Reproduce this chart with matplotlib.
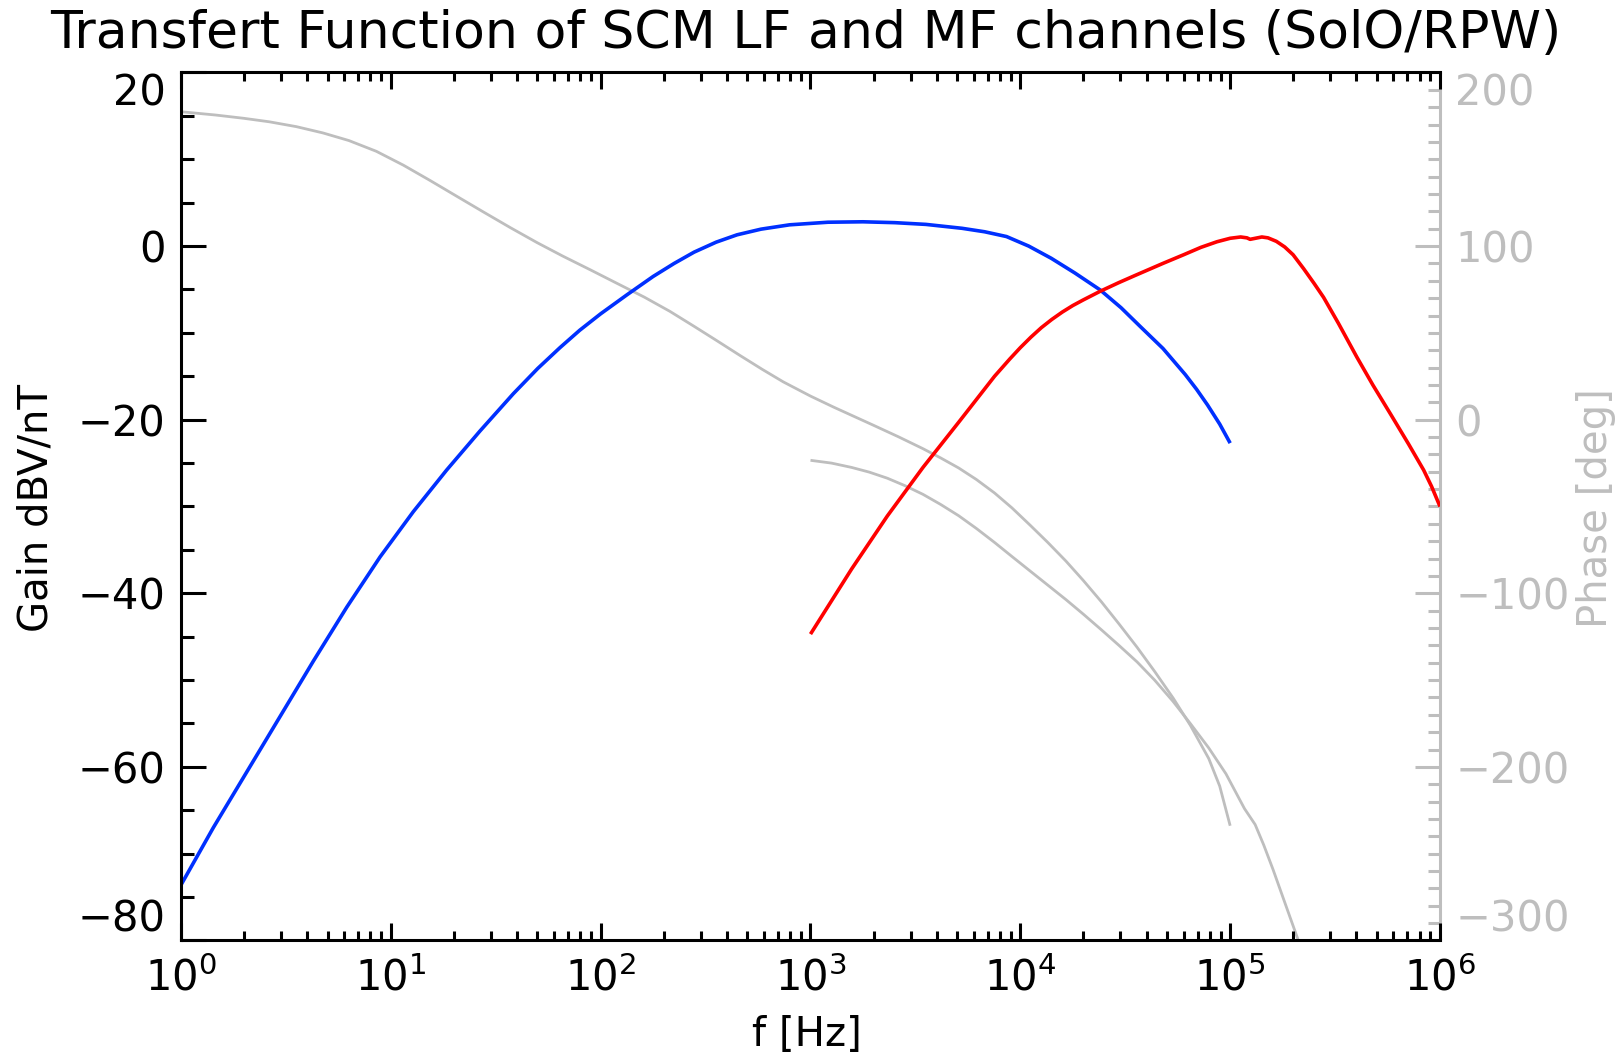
import numpy as np
import matplotlib
matplotlib.use("Agg")
import matplotlib.pyplot as plt
from matplotlib.ticker import MultipleLocator, LogLocator, NullFormatter

# ---------------- data ----------------
# frequencies are given as log10(f [Hz])
lf_log10f = [0.0, 0.154, 0.313, 0.472, 0.631, 0.790, 0.949, 1.107, 1.266, 1.425,
             1.584, 1.7, 1.806, 1.9, 2.0, 2.126, 2.25, 2.35, 2.445, 2.55, 2.65,
             2.764, 2.9, 3.083, 3.25, 3.402, 3.55, 3.722, 3.83, 3.934, 4.04,
             4.147, 4.26, 4.381, 4.48, 4.573, 4.68, 4.786, 4.84, 4.892, 4.95, 5.0]
lf_gain = [-73.6, -67.0, -60.6, -54.2, -47.8, -41.6, -35.8, -30.6, -25.8, -21.3,
           -17.0, -14.1, -11.7, -9.7, -7.8, -5.6, -3.5, -2.0, -0.7, 0.45, 1.3,
           1.95, 2.45, 2.75, 2.8, 2.7, 2.5, 2.05, 1.65, 1.1, 0.0,
           -1.4, -3.1, -5.06, -7.1, -9.3, -11.8, -14.8, -16.5, -18.3, -20.5, -22.7]

mf_log10f = [3.0, 3.196, 3.366, 3.536, 3.706, 3.877, 3.95, 4.0, 4.05, 4.1, 4.15,
             4.2, 4.25, 4.3, 4.381, 4.47, 4.55, 4.679, 4.778, 4.86, 4.937, 5.0,
             5.05, 5.08, 5.095, 5.12, 5.151, 5.18, 5.22, 5.26, 5.3, 5.35, 5.4,
             5.445, 5.516, 5.604, 5.68, 5.763, 5.85, 5.922, 5.96, 6.0]
mf_gain = [-44.7, -37.2, -31.1, -25.5, -20.3, -15.0, -13.0, -11.7, -10.5, -9.4, -8.45,
           -7.6, -6.85, -6.2, -5.2, -4.2, -3.35, -2.0, -1.0, -0.15, 0.5, 0.9,
           1.05, 0.95, 0.78, 0.9, 1.05, 0.95, 0.55, -0.1, -1.0, -2.6, -4.3,
           -5.9, -8.9, -12.8, -16.0, -19.3, -22.8, -25.8, -27.7, -30.0]

lf_phase_log10f = [0.0, 0.165, 0.3, 0.421, 0.55, 0.676, 0.8, 0.931, 1.06, 1.187,
                   1.31, 1.442, 1.57, 1.697, 1.82, 1.953, 2.08, 2.208, 2.33, 2.445,
                   2.55, 2.664, 2.77, 2.87, 3.0, 3.111, 3.2, 3.3, 3.42, 3.536, 3.62,
                   3.706, 3.79, 3.877, 3.96, 4.047, 4.13, 4.217, 4.3, 4.387, 4.47,
                   4.557, 4.64, 4.728, 4.81, 4.898, 4.95, 5.0]
lf_phase = [177.4, 175.5, 173.6, 171.6, 168.8, 165.2, 160.8, 154.6, 146.6, 137.8,
            129.0, 119.6, 110.6, 102.0, 94.2, 86.2, 78.4, 70.6, 62.4, 53.8,
            45.8, 37.0, 29.0, 21.8, 13.6, 7.2, 2.3, -3.2, -9.9, -16.7, -22.0,
            -27.8, -34.4, -42.2, -50.8, -60.8, -70.6, -81.4, -92.6, -105.0, -117.6,
            -131.2, -145.0, -160.3, -176.0, -195.2, -211.0, -233.9]

mf_phase_log10f = [3.0, 3.1, 3.196, 3.28, 3.366, 3.45, 3.536, 3.62, 3.706, 3.79,
                   3.877, 3.96, 4.047, 4.13, 4.217, 4.3, 4.387, 4.47, 4.557, 4.64,
                   4.728, 4.81, 4.898, 4.98, 5.068, 5.119, 5.16, 5.204, 5.26, 5.324,
                   5.36]
mf_phase = [-23.4, -25.0, -27.5, -30.2, -33.7, -38.0, -43.0, -48.8, -55.3, -62.6,
            -70.7, -78.8, -87.2, -95.2, -103.6, -112.0, -121.1, -130.0, -139.6, -150.0,
            -162.3, -175.0, -189.1, -204.0, -224.0, -233.2, -245.0, -259.0, -278.0,
            -299.7, -312.0]

x_ticks = [1, 10, 100, 1000, 10000, 100000, 1000000]
x_ticklabels = [r"$\mathregular{10^{%d}}$" % i for i in range(7)]
gain_ticks = [-80, -60, -40, -20, 0, 20]
phase_ticks = [-300, -200, -100, 0, 100, 200]

title = "Transfert Function of SCM LF and MF channels (SolO/RPW)"

# ---------------- style ----------------
GRAY = "#bebebe"
BLUE = "#0030ff"
RED = "#ff0000"
TICKFONT = ["Liberation Sans Narrow", "DejaVu Sans"]
plt.rcParams["font.family"] = TICKFONT
plt.rcParams["mathtext.default"] = "regular"

fig = plt.figure(figsize=(16.24, 10.58), dpi=100)
ax = fig.add_axes([0.11145, 0.11106, 0.77525, 0.82042])
ax2 = ax.twinx()
ax.set_zorder(ax2.get_zorder() + 1)
ax.patch.set_visible(False)

kw = dict(solid_joinstyle="round", solid_capstyle="butt")
ax2.plot(np.power(10.0, lf_phase_log10f), lf_phase, color=GRAY, lw=2.0, **kw)
ax2.plot(np.power(10.0, mf_phase_log10f), mf_phase, color=GRAY, lw=2.0, **kw)
ax.plot(np.power(10.0, lf_log10f), lf_gain, color=BLUE, lw=2.6, **kw)
ax.plot(np.power(10.0, mf_log10f), mf_gain, color=RED, lw=2.6, **kw)

ax.set_xscale("log")
ax.set_xlim(1, 1e6)
ax.set_ylim(-80, 20)
ax2.set_ylim(-300, 200)

# spines
ax.spines["right"].set_visible(False)
for s in ["left", "top", "bottom"]:
    ax.spines[s].set_linewidth(2.2)
    ax.spines[s].set_color("black")
for s in ["left", "top", "bottom"]:
    ax2.spines[s].set_visible(False)
ax2.spines["right"].set_color(GRAY)
ax2.spines["right"].set_linewidth(2.2)

# x ticks
ax.set_xticks(x_ticks)
ax.set_xticklabels(x_ticklabels)
ax.xaxis.set_minor_locator(LogLocator(base=10, subs=range(2, 10), numticks=30))
ax.xaxis.set_minor_formatter(NullFormatter())
ax.tick_params(axis="x", which="major", direction="in", top=True, bottom=True,
               length=12.5, width=2.2, pad=12, labelsize=30)
ax.tick_params(axis="x", which="minor", direction="in", top=True, bottom=True,
               length=6.2, width=2.2)

# left y ticks
ax.set_yticks(gain_ticks)
ax.yaxis.set_minor_locator(MultipleLocator(5))
ax.tick_params(axis="y", which="major", direction="in", left=True, right=False,
               length=18, width=2.2, pad=11, labelsize=30)
ax.tick_params(axis="y", which="minor", direction="in", left=True, right=False,
               length=9, width=2.2)
ylab = ax.get_yticklabels()
ylab[-1].set_verticalalignment("top")
ylab[0].set_verticalalignment("bottom")

# right y ticks
ax2.set_yticks(phase_ticks)
ax2.yaxis.set_minor_locator(MultipleLocator(10))
ax2.tick_params(axis="y", which="major", direction="in", right=True, left=False,
                length=18, width=2.2, pad=11, labelsize=30, colors=GRAY)
ax2.tick_params(axis="y", which="minor", direction="in", right=True, left=False,
                length=9, width=2.2, colors=GRAY)
plab = ax2.get_yticklabels()
plab[-1].set_verticalalignment("top")
plab[0].set_verticalalignment("bottom")

# labels
ax.set_xlabel("f [Hz]", fontsize=29, family="DejaVu Sans")
ax.xaxis.set_label_coords(0.497, -0.086)
ax.set_ylabel("Gain dBV/nT", fontsize=29, family="DejaVu Sans")
ax.yaxis.set_label_coords(-0.099, 0.498)
ax2.set_ylabel("Phase [deg]", fontsize=29, family="DejaVu Sans", color=GRAY)
ax2.yaxis.set_label_coords(1.108, 0.498)

fig.text(806 / 1624, 1 - 34 / 1058, title, ha="center", va="center",
         fontsize=37.5, family="DejaVu Sans")

fig.savefig("out.png", dpi=100, facecolor="white")
